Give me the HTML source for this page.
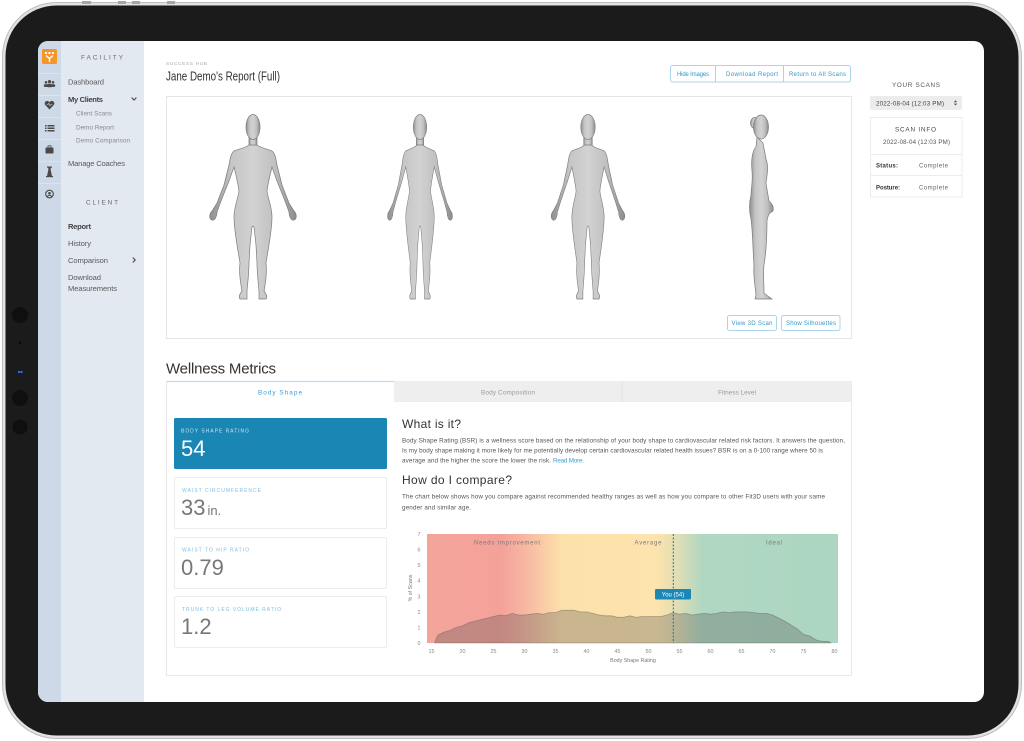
<!DOCTYPE html>
<html><head><meta charset="utf-8"><style>
html,body{margin:0;padding:0;background:#fff;}
svg{display:block;font-family:"Liberation Sans",Arial,sans-serif;}
</style></head><body>
<svg width="1024" height="741" viewBox="0 0 1024 741" xmlns="http://www.w3.org/2000/svg">
<defs>
<clipPath id="scr"><rect x="38" y="41" width="946" height="661" rx="10"/></clipPath>
<linearGradient id="bg" x1="0" x2="1" y1="0" y2="0">
<stop offset="0" stop-color="#f3a59b"/><stop offset="0.18" stop-color="#f4a19a"/>
<stop offset="0.24" stop-color="#f7b8a2"/><stop offset="0.33" stop-color="#fde1ab"/>
<stop offset="0.56" stop-color="#fde3ad"/><stop offset="0.61" stop-color="#dfdeb5"/>
<stop offset="0.67" stop-color="#b0d7c2"/><stop offset="1" stop-color="#acd6c1"/>
</linearGradient>
<linearGradient id="skin" x1="0" x2="1" y1="0" y2="0">
<stop offset="0" stop-color="#8e8e8e"/><stop offset="0.25" stop-color="#c6c6c6"/>
<stop offset="0.5" stop-color="#d2d2d2"/><stop offset="0.75" stop-color="#c0c0c0"/>
<stop offset="1" stop-color="#8c8c8c"/>
</linearGradient>
<path id="body" d="M-4,30 C-8,33 -14,34 -19,36 C-22,38 -23,44 -24,50 L-29,70 L-36,88 L-41,96 C-44,99 -44,104 -41,105 C-38,106 -36,101 -36,97 L-32,86 L-24,66 L-19,52 C-17,60 -15,68 -14,76 C-15,84 -19,92 -19,102 C-19,112 -17,124 -15,136 L-13,148 C-14,156 -13,166 -11,176 C-13,179 -15,182 -13,184 L-6,184 L-6,176 C-5,166 -4,156 -4,148 L-3,130 L-1,112 L0,111 L1,112 L3,130 L4,148 C4,156 5,166 6,176 L6,184 L13,184 C15,182 13,179 11,176 C13,166 14,156 13,148 L15,136 C17,124 19,112 19,102 C19,92 15,84 14,76 C15,68 17,60 19,52 L24,66 L32,86 L36,97 C36,101 38,106 41,105 C44,104 44,99 41,96 L36,88 L29,70 L24,50 C23,44 22,38 19,36 C14,34 8,33 4,30 Z"/>
</defs>

<rect width="1024" height="741" fill="#fff"/>
<!-- iPad frame -->
<rect x="2" y="2" width="1020" height="737" rx="55" fill="#bdbdbd"/>
<rect x="3" y="3" width="1018" height="735" rx="54" fill="#e2e2e2"/>
<rect x="5.5" y="5.5" width="1013" height="730" rx="51" fill="#1b1b1b"/>
<rect x="82" y="1" width="9" height="3" fill="#a5a5a5"/>
<rect x="118" y="1" width="8" height="3" fill="#a5a5a5"/>
<rect x="132" y="1" width="8" height="3" fill="#a5a5a5"/>
<rect x="167" y="1" width="8" height="3" fill="#a5a5a5"/>
<circle cx="20" cy="315" r="8" fill="#0f0f0f"/>
<circle cx="20" cy="343" r="1.5" fill="#0a0a0a"/>
<circle cx="20" cy="372" r="3.5" fill="#0d1a33"/>
<circle cx="19" cy="372" r="1.2" fill="#3a6fc4"/><circle cx="21.5" cy="372" r="1.2" fill="#3a6fc4"/>
<circle cx="20" cy="398" r="8" fill="#0f0f0f"/>
<circle cx="20" cy="427" r="7.5" fill="#0f0f0f"/>

<g clip-path="url(#scr)">
<rect x="38" y="41" width="946" height="661" fill="#fff"/>
<!-- sidebar -->
<rect x="38" y="41" width="23" height="661" fill="#cdd9e6"/>
<rect x="61" y="41" width="83" height="661" fill="#e3e9f1"/>
<g stroke="#dbe3ed" stroke-width="1">
<line x1="38" y1="73.5" x2="61" y2="73.5"/><line x1="38" y1="95.5" x2="61" y2="95.5"/>
<line x1="38" y1="117.5" x2="61" y2="117.5"/><line x1="38" y1="139.5" x2="61" y2="139.5"/>
<line x1="38" y1="161.5" x2="61" y2="161.5"/><line x1="38" y1="183.5" x2="61" y2="183.5"/>
</g>
<rect x="42" y="49" width="15" height="15" rx="1.5" fill="#f6962a"/>
<g fill="#fff"><rect x="45" y="52" width="2" height="2"/><rect x="48.5" y="52" width="2" height="2"/><rect x="52" y="52" width="2" height="2"/></g>
<path d="M46,55.5 L49.5,58.5 L53,55.5 M49.5,58.5 V62" stroke="#fff" stroke-width="1.4" fill="none"/>
<!-- icons -->
<g fill="#4a4a4a">
<circle cx="46" cy="82.3" r="1.3"/><circle cx="49.5" cy="81.6" r="1.6"/><circle cx="53" cy="82.3" r="1.3"/>
<rect x="43.8" y="84.2" width="4.4" height="2.8" rx="1.2"/><rect x="47" y="83.8" width="5" height="3.4" rx="1.3"/><rect x="50.8" y="84.2" width="4.4" height="2.8" rx="1.2"/>
<path d="M49.5,109.5 L45,104.8 A2.4,2.4 0 0 1 49.5,102.2 A2.4,2.4 0 0 1 54,104.8 Z"/>
<rect x="45" y="125" width="1.5" height="1.5"/><rect x="47.5" y="125" width="7" height="1.5"/>
<rect x="45" y="127.5" width="1.5" height="1.5"/><rect x="47.5" y="127.5" width="7" height="1.5"/>
<rect x="45" y="130" width="1.5" height="1.5"/><rect x="47.5" y="130" width="7" height="1.5"/>
<rect x="45.5" y="147.5" width="8" height="6" rx="0.8"/>
<path d="M47,176 L48.3,170 L48.3,167.5 L50.7,167.5 L50.7,170 L52,176 Z"/><rect x="47" y="166.5" width="5" height="1.2"/><rect x="46" y="176" width="7" height="1.2"/>
</g>
<path d="M46.5,104.5 h1.5 l0.8,-1.2 l1.2,2.4 l0.8,-1.2 h1.7" stroke="#cdd9e6" stroke-width="0.6" fill="none"/>
<rect x="48" y="145.8" width="3" height="2" fill="none" stroke="#4a4a4a" stroke-width="0.8"/>
<circle cx="49.5" cy="194" r="3.8" fill="none" stroke="#4a4a4a" stroke-width="1.1"/>
<circle cx="49.5" cy="193.2" r="1.3" fill="#4a4a4a"/><path d="M47.2,196.6 Q49.5,194 51.8,196.6" stroke="#4a4a4a" stroke-width="1" fill="none"/>

<g fill="#5a5a5a" font-size="7.6">
<text x="81" y="59.5" font-size="6.4" fill="#6a6a6a" textLength="42">FACILITY</text>
<text x="68" y="84.5" textLength="36">Dashboard</text>
<text x="68" y="101.8" font-weight="bold" fill="#444" textLength="35">My Clients</text>
<text x="76" y="115.5" font-size="6.4" fill="#8a8a8a" textLength="36">Client Scans</text>
<text x="76" y="129.5" font-size="6.4" fill="#8a8a8a" textLength="38">Demo Report</text>
<text x="76" y="142.5" font-size="6.4" fill="#8a8a8a" textLength="54">Demo Comparison</text>
<text x="68" y="166" textLength="57">Manage Coaches</text>
<text x="86" y="204.5" font-size="6.4" fill="#6a6a6a" textLength="32">CLIENT</text>
<text x="68" y="229" font-weight="bold" fill="#444" textLength="23">Report</text>
<text x="68" y="246" textLength="23">History</text>
<text x="68" y="263" textLength="40">Comparison</text>
<text x="68" y="280" textLength="33">Download</text>
<text x="68" y="291" textLength="49">Measurements</text>
</g>
<path d="M131.6,97.6 L134,100 L136.4,97.6" stroke="#555" stroke-width="1.2" fill="none"/>
<path d="M132.8,257.6 L135.2,260 L132.8,262.4" stroke="#555" stroke-width="1.2" fill="none"/>

<!-- header -->
<text x="166" y="65" font-size="4.8" fill="#aaa" textLength="41">SUCCESS HUB</text>
<text x="166" y="80.5" font-size="12.5" fill="#333" textLength="114" lengthAdjust="spacingAndGlyphs">Jane Demo's Report (Full)</text>
<rect x="670.5" y="65.5" width="180" height="16.5" rx="2" fill="#fff" stroke="#a9d5ea"/>
<line x1="715.5" y1="65.5" x2="715.5" y2="82" stroke="#a9d5ea"/>
<line x1="783.5" y1="65.5" x2="783.5" y2="82" stroke="#a9d5ea"/>
<g font-size="6" fill="#3497c9">
<text x="677" y="76" textLength="32">Hide Images</text>
<text x="726" y="76" textLength="52">Download Report</text>
<text x="789" y="76" textLength="57">Return to All Scans</text>
</g>

<!-- figures panel -->
<rect x="166.5" y="96.5" width="685" height="242" fill="#fff" stroke="#e6e6e6"/>
<g fill="url(#skin)" stroke="#7c7c7c" stroke-width="0.7">
<g transform="translate(253,115)"><rect x="-4" y="20" width="8" height="13"/><use href="#body"/><ellipse cx="0" cy="12" rx="7" ry="12.5"/></g>
<g transform="translate(420,115) scale(0.75,1)"><rect x="-5" y="20" width="10" height="13"/><use href="#body"/><ellipse cx="0" cy="12" rx="9" ry="12.5"/></g>
<g transform="translate(588,115) scale(0.85,1)"><rect x="-5" y="20" width="10" height="13"/><use href="#body"/><ellipse cx="0" cy="12" rx="8.5" ry="12.5"/></g>
<g transform="translate(760,115)">
<path d="M-3,22 L-4,32 C-8,36 -9,46 -8,56 C-7,66 -9,74 -9,80 C-11,88 -11,96 -9,104 C-7,120 -7,140 -6,150 C-7,160 -5,170 -4,180 L-5,184 L12,184 C9,182 6,180 4,178 C4,168 3,158 4,150 C6,138 7,120 7,106 C8,100 9,98 13,96 C14,92 12,88 9,86 C8,80 7,74 6,68 C7,60 9,52 6,44 C5,38 4,34 3,28 Z"/>
<ellipse cx="-5" cy="8" rx="4.5" ry="5.5"/><ellipse cx="1" cy="12" rx="7.5" ry="12"/></g>
</g>
<rect x="727.5" y="315.5" width="49" height="15" rx="2" fill="#fff" stroke="#a9d5ea"/>
<rect x="781.5" y="315.5" width="58.5" height="15" rx="2" fill="#fff" stroke="#a9d5ea"/>
<g font-size="6" fill="#3497c9">
<text x="731.5" y="325.2" textLength="41">View 3D Scan</text>
<text x="786" y="325.2" textLength="50">Show Silhouettes</text>
</g>

<!-- right panel -->
<text x="892" y="87" font-size="6.3" fill="#555" textLength="48">YOUR SCANS</text>
<rect x="870" y="96" width="92" height="14" rx="2" fill="#ececec"/>
<text x="876" y="105.5" font-size="6.2" fill="#444" textLength="68">2022-08-04 (12:03 PM)</text>
<path d="M953.8,102.2 L955.5,100.3 L957.2,102.2 Z M953.8,103.6 L955.5,105.5 L957.2,103.6 Z" fill="#555"/>
<rect x="870.5" y="117.5" width="91.5" height="79.5" fill="#fff" stroke="#ececec"/>
<line x1="870.5" y1="154.5" x2="962" y2="154.5" stroke="#ececec"/>
<line x1="870.5" y1="175.5" x2="962" y2="175.5" stroke="#ececec"/>
<text x="895" y="131.5" font-size="6.3" fill="#444" textLength="41">SCAN INFO</text>
<text x="883" y="144" font-size="6.2" fill="#555" textLength="67">2022-08-04 (12:03 PM)</text>
<text x="876" y="167.5" font-size="6" fill="#333" font-weight="bold" textLength="22">Status:</text>
<text x="919" y="167.5" font-size="6" fill="#666" textLength="29">Complete</text>
<text x="876" y="189.5" font-size="6" fill="#333" font-weight="bold" textLength="24">Posture:</text>
<text x="919" y="189.5" font-size="6" fill="#666" textLength="29">Complete</text>

<!-- wellness metrics -->
<text x="166" y="373.5" font-size="15" fill="#333" textLength="110">Wellness Metrics</text>
<rect x="166.5" y="381.5" width="685" height="294" fill="#fff" stroke="#e8e8e8"/>
<rect x="394" y="381" width="457.5" height="21" fill="#eeeeee"/>
<line x1="622" y1="381" x2="622" y2="402" stroke="#e2e2e2"/>
<line x1="166.5" y1="381.5" x2="394" y2="381.5" stroke="#bfdff0" stroke-width="1.2"/>
<text x="258" y="394.5" font-size="6.4" fill="#3a9fd0" textLength="44">Body Shape</text>
<text x="481" y="394.5" font-size="6.4" fill="#9a9a9a" textLength="54">Body Composition</text>
<text x="718" y="394.5" font-size="6.4" fill="#9a9a9a" textLength="38">Fitness Level</text>

<rect x="174" y="418" width="213" height="51" rx="1.5" fill="#1a86b4"/>
<text x="181" y="432.5" font-size="5" fill="#cfe5f1" textLength="68">BODY SHAPE RATING</text>
<text x="181" y="456" font-size="22" fill="#fff">54</text>
<rect x="174.5" y="477.5" width="212" height="51" rx="1.5" fill="#fff" stroke="#ececec"/>
<text x="182" y="492" font-size="5" fill="#7fbde0" textLength="79">WAIST CIRCUMFERENCE</text>
<text x="181" y="515" font-size="22" fill="#777">33<tspan font-size="13" dx="2">in.</tspan></text>
<rect x="174.5" y="537.5" width="212" height="51" rx="1.5" fill="#fff" stroke="#ececec"/>
<text x="182" y="551.5" font-size="5" fill="#7fbde0" textLength="67">WAIST TO HIP RATIO</text>
<text x="181" y="575" font-size="22" fill="#777">0.79</text>
<rect x="174.5" y="596.5" width="212" height="51" rx="1.5" fill="#fff" stroke="#ececec"/>
<text x="182" y="611" font-size="5" fill="#7fbde0" textLength="99">TRUNK TO LEG VOLUME RATIO</text>
<text x="181" y="634" font-size="22" fill="#777">1.2</text>

<text x="402" y="428" font-size="12" fill="#333" textLength="59">What is it?</text>
<g font-size="6.3" fill="#555">
<text x="402" y="442.5" textLength="443">Body Shape Rating (BSR) is a wellness score based on the relationship of your body shape to cardiovascular related risk factors. It answers the question,</text>
<text x="402" y="452.5" textLength="421">Is my body shape making it more likely for me potentially develop certain cardiovascular related health issues? BSR is on a 0-100 range where 50 is</text>
<text x="402" y="462.5" textLength="149">average and the higher the score the lower the risk.</text>
<text x="553" y="462.5" fill="#3a9fd0" textLength="31">Read More.</text>
</g>
<text x="402" y="484" font-size="12" fill="#333" textLength="110">How do I compare?</text>
<g font-size="6.3" fill="#555">
<text x="402" y="498.5" textLength="423">The chart below shows how you compare against recommended healthy ranges as well as how you compare to other Fit3D users with your same</text>
<text x="402" y="509.5" textLength="69">gender and similar age.</text>
</g>

<!-- chart -->
<rect x="427" y="534" width="411" height="109" fill="url(#bg)"/>
<path d="M434.6,643 L437.7,635.2 L443.9,632.1 L450.1,630.5 L456.3,627.4 L462.5,625.9 L468.7,622.8 L474.9,621.2 L481.1,619.6 L487.3,618.1 L493.5,616.5 L499.7,615 L505.9,615.8 L512.1,613.4 L518.3,615 L524.5,615 L530.7,614.2 L536.9,613.4 L543.1,614.2 L549.3,612.6 L555.5,612.6 L561.7,610.3 L567.9,610.3 L574.1,610.3 L580.3,611.9 L586.5,611.9 L592.7,613.4 L598.9,615 L605.1,615.8 L611.3,615.8 L617.5,617.3 L623.7,617.3 L629.9,615.8 L636.1,617.3 L642.3,616.5 L648.5,616.5 L654.7,616.5 L660.9,616.5 L667.1,615 L673.3,612.6 L679.5,614.2 L685.7,613.4 L691.9,615 L698.1,614.2 L704.3,613.4 L710.5,614.2 L716.7,613.4 L722.9,611.9 L729.1,612.6 L735.3,611.9 L741.5,611.9 L747.7,611.9 L753.9,612.6 L760.1,613.4 L766.3,613.4 L772.5,615 L778.7,618.1 L784.9,621.2 L791.1,625.1 L797.3,629 L803.5,634.4 L809.7,636 L815.9,639.9 L822.1,641.4 L828.3,641.4 L831.4,643 Z" fill="rgba(70,70,70,0.28)" stroke="rgba(90,90,90,0.45)" stroke-width="0.8"/>
<line x1="673.3" y1="534" x2="673.3" y2="643" stroke="#2c6f92" stroke-width="1" stroke-dasharray="2,1.5"/>
<rect x="655" y="589" width="36" height="10.5" rx="1.2" fill="#1b87b5"/>
<text x="673" y="596.6" font-size="6" fill="#fff" text-anchor="middle">You (54)</text>
<g font-size="6" fill="#7a7a7a">
<text x="474" y="544.5" textLength="66">Needs Improvement</text>
<text x="634.5" y="544.5" textLength="27">Average</text>
<text x="766" y="544.5" textLength="16">Ideal</text>
</g>
<g font-size="5.3" fill="#888" text-anchor="middle">
<text x="419" y="645">0</text><text x="419" y="629.4">1</text><text x="419" y="613.9">2</text><text x="419" y="598.3">3</text>
<text x="419" y="582.7">4</text><text x="419" y="567.2">5</text><text x="419" y="551.6">6</text><text x="419" y="536">7</text>
<text x="431.5" y="653">15</text><text x="462.5" y="653">20</text><text x="493.5" y="653">25</text><text x="524.5" y="653">30</text>
<text x="555.5" y="653">35</text><text x="586.5" y="653">40</text><text x="617.5" y="653">45</text><text x="648.5" y="653">50</text>
<text x="679.5" y="653">55</text><text x="710.5" y="653">60</text><text x="741.5" y="653">65</text><text x="772.5" y="653">70</text>
<text x="803.5" y="653">75</text><text x="834.5" y="653">80</text>
<text x="633" y="662" fill="#777">Body Shape Rating</text>
<text transform="translate(412,588) rotate(-90)" fill="#777">% of Scans</text>
</g>

<text x="166" y="714" font-size="15" fill="#333">Posture</text>
</g>
</svg>
</body></html>
